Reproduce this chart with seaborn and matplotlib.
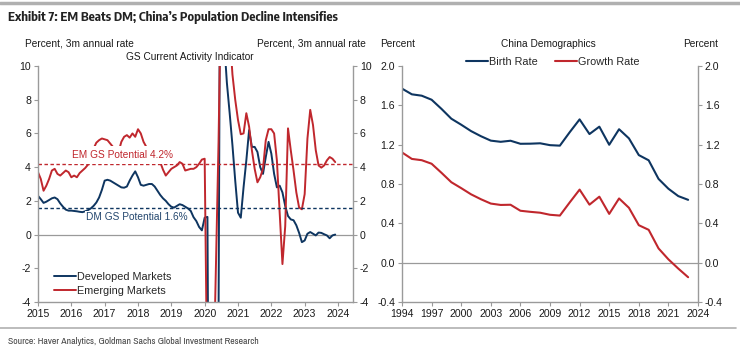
import numpy as np
import pandas as pd
import matplotlib
matplotlib.use("Agg")
import matplotlib.pyplot as plt
import seaborn as sns
from matplotlib.lines import Line2D

# ---------------- data ----------------
cai_start_year = 2015
dm_values = [
    2.3, 2.1, 1.88, 1.95, 2.05, 2.15, 2.2, 2.1, 1.85, 1.65, 1.48, 1.42,
    1.42, 1.4, 1.38, 1.35, 1.33, 1.38, 1.45, 1.55, 1.7, 1.9, 2.2, 2.65,
    3.2, 3.25, 3.2, 3.1, 3.0, 2.9, 2.8, 2.78, 2.85, 3.2, 3.5, 3.75,
    3.4, 2.95, 2.9, 2.95, 3.0, 3.0, 2.85, 2.6, 2.35, 2.15, 2.0, 1.8,
    1.65, 1.6, 1.7, 1.8, 1.75, 1.65, 1.55, 1.4, 1.03, 0.8, 0.45, 0.25,
    1.0, 1.05, -30, -32, -15, -5, 35, 11.5, 9.0, 7.2, 5.3, 3.2,
    1.3, 1.0, 2.8, 4.4, 6.2, 5.2, 5.2, 4.9, 4.0, 3.6, 4.6, 5.5,
    4.8, 3.6, 2.8, 2.9, 2.5, 1.7, 1.1, 0.9, 0.85, 0.55, 0.1, -0.45,
    -0.35, 0.05, 0.15, 0.05, -0.05, 0.12, 0.1, 0.02, -0.05, -0.22, -0.05, 0.0,
]
em_values = [
    3.7, 3.3, 2.6, 2.9, 3.3, 3.8, 3.9, 3.6, 3.5, 3.65, 3.8, 3.7,
    3.4, 3.5, 3.4, 3.65, 3.8, 3.95, 4.15, 4.6, 5.1, 5.45, 5.6, 5.7,
    5.65, 5.6, 5.4, 5.2, 4.8, 4.9, 5.5, 5.8, 5.9, 5.75, 6.0, 5.8,
    6.25, 6.0, 5.5, 5.2, 4.8, 4.6, 4.5, 4.4, 4.3, 3.85, 3.5, 3.7,
    3.9, 4.0, 4.1, 4.3, 4.2, 3.8, 3.85, 3.9, 3.9, 4.0, 4.2, 4.45,
    4.5, -10, -25, -10, -2.3, 5.5, 16, 18, 15, 12, 9.5, 8.0,
    6.8, 5.95, 6.0, 7.2, 6.4, 5.0, 3.9, 3.1, 3.4, 3.9, 5.6, 6.25,
    6.25, 6.0, 4.4, 1.3, -1.75, 0.5, 6.3, 5.0, 3.8, 2.5, 1.6, 1.5,
    2.4, 5.7, 7.4, 6.5, 5.0, 4.1, 3.97, 4.1, 4.4, 4.6, 4.5, 4.3,
]
dm_potential = 1.6
em_potential = 4.2

demo_years = list(range(1994, 2024))
birth_rate = [1.770, 1.712, 1.698, 1.657, 1.564, 1.464, 1.403, 1.338, 1.286, 1.241,
              1.229, 1.240, 1.209, 1.210, 1.214, 1.195, 1.190, 1.327, 1.457, 1.308,
              1.383, 1.199, 1.357, 1.264, 1.094, 1.041, 0.852, 0.752, 0.677, 0.639]
growth_rate = [1.121, 1.055, 1.042, 1.006, 0.914, 0.818, 0.758, 0.695, 0.645, 0.601,
               0.587, 0.589, 0.528, 0.517, 0.508, 0.487, 0.479, 0.613, 0.743, 0.590,
               0.671, 0.496, 0.653, 0.558, 0.381, 0.334, 0.145, 0.034, -0.060, -0.148]

left_xticks = list(range(2015, 2025))
left_yticks = [-4, -2, 0, 2, 4, 6, 8, 10]
right_xticks = list(range(1994, 2025, 3))
right_yticks = [-0.4, 0.0, 0.4, 0.8, 1.2, 1.6, 2.0]

# ---------------- style ----------------
sns.set_theme(style="white")
plt.rcParams["font.family"] = ["Liberation Sans", "DejaVu Sans"]
plt.rcParams["axes.linewidth"] = 1.0

NAVY = "#0e3560"
RED = "#c0272d"
GRID = "#9a9a9a"
TXT = "#1a1a1a"

W, H = 740, 347
fig = plt.figure(figsize=(W / 100, H / 100), dpi=100)

def fx(px):
    return px / W

def fy(py):
    return 1 - py / H

ax1 = fig.add_axes([fx(38), fy(302), fx(353) - fx(38), fy(66) - fy(302)])
ax2 = fig.add_axes([fx(402), fy(302), fx(698) - fx(402), fy(66) - fy(302)])

# ---------------- left chart ----------------
n = len(dm_values)
t = cai_start_year + np.arange(n) / 12.0
df_left = pd.DataFrame({
    "year": np.concatenate([t, t]),
    "value": dm_values + em_values,
    "series": ["Developed Markets"] * n + ["Emerging Markets"] * n,
})
ax1.axhline(0, color=GRID, lw=0.9, zorder=1)
sns.lineplot(data=df_left, x="year", y="value", hue="series",
             palette={"Developed Markets": NAVY, "Emerging Markets": RED},
             lw=1.4, ax=ax1, legend=False, zorder=2)
ax1.axhline(em_potential, color=RED, lw=1.0, ls=(0, (2.5, 1.8)), zorder=2)
ax1.axhline(dm_potential, color=NAVY, lw=1.0, ls=(0, (2.5, 1.8)), zorder=2)

ax1.text(2017.53, 4.72, f"EM GS Potential {em_potential}%", color=RED, fontsize=7.3,
         ha="center", va="center", zorder=5,
         bbox=dict(facecolor="white", edgecolor="none", pad=2.6))
ax1.text(2017.97, 1.03, f"DM GS Potential {dm_potential}%", color="#24476e", fontsize=7.3,
         ha="center", va="center", zorder=5,
         bbox=dict(facecolor="white", edgecolor="none", pad=1.0))

ax1.set_xlim(2015, 2024.45)
ax1.set_ylim(-4, 10)
ax1.set_xticks(left_xticks)
ax1.set_xticklabels([str(v) for v in left_xticks])
ax1.set_yticks(left_yticks)
ax1.set_yticklabels([str(v) for v in left_yticks])
ax1.set_xlabel("")
ax1.set_ylabel("")

h1 = [Line2D([], [], color=NAVY, lw=1.4), Line2D([], [], color=RED, lw=1.4)]
ax1.legend(h1, ["Developed Markets", "Emerging Markets"], loc="lower left",
           bbox_to_anchor=(0.03, 0.0), frameon=False, fontsize=7.8,
           handlelength=2.0, handletextpad=0.1, labelspacing=0.35, borderaxespad=0.2)

# ---------------- right chart ----------------
df_right = pd.DataFrame({
    "year": demo_years + demo_years,
    "value": birth_rate + growth_rate,
    "series": ["Birth Rate"] * len(demo_years) + ["Growth Rate"] * len(demo_years),
})
ax2.axhline(0, color=GRID, lw=0.9, zorder=1)
sns.lineplot(data=df_right, x="year", y="value", hue="series",
             palette={"Birth Rate": NAVY, "Growth Rate": RED},
             lw=1.5, ax=ax2, legend=False, zorder=2)
ax2.set_xlim(1994, 2024)
ax2.set_ylim(-0.4, 2.0)
ax2.set_xticks(right_xticks)
ax2.set_xticklabels([str(v) for v in right_xticks])
ax2.set_yticks(right_yticks)
ax2.set_yticklabels([f"{v:.1f}" for v in right_yticks])
ax2.set_xlabel("")
ax2.set_ylabel("")

h2 = [Line2D([], [], color=NAVY, lw=1.5), Line2D([], [], color=RED, lw=1.5)]
fig.legend(h2, ["Birth Rate", "Growth Rate"], loc="center",
           bbox_to_anchor=(fx(553), fy(62)), ncol=2, frameon=False, fontsize=7.8,
           handlelength=2.0, handletextpad=0.1, columnspacing=1.6)

for ax in (ax1, ax2):
    for s in ax.spines.values():
        s.set_color(GRID)
    ax.spines["top"].set_visible(False)
    ax.tick_params(axis="both", which="both", direction="out", length=3, width=0.8,
                   color=GRID, labelsize=7.6, labelcolor=TXT, pad=2,
                   left=True, right=True, bottom=True, labelleft=True, labelright=True)
    ax.grid(False)

# ---------------- texts ----------------
fig.add_artist(Line2D([0, 1], [fy(3), fy(3)], color="#b0b0b0", lw=2.5))
fig.add_artist(Line2D([0, fx(736)], [fy(328), fy(328)], color="#b0b0b0", lw=1.2))

fig.text(fx(8), fy(18), "Exhibit 7: EM Beats DM; China\u2019s Population Decline Intensifies",
         family=["Encode Sans Condensed", "DejaVu Sans"], fontweight="bold", fontsize=9.3,
         color="#222222", ha="left", va="center")
fig.text(fx(8), fy(341), "Source: Haver Analytics, Goldman Sachs Global Investment Research",
         family=["Archivo Narrow", "DejaVu Sans"], fontsize=7.0, color="#444444",
         ha="left", va="center")

lab = dict(fontsize=7.3, color=TXT, va="center")
fig.text(fx(25), fy(44), "Percent, 3m annual rate", ha="left", **lab)
fig.text(fx(366), fy(44), "Percent, 3m annual rate", ha="right", **lab)
fig.text(fx(190), fy(57), "GS Current Activity Indicator", ha="center", **lab)
fig.text(fx(380), fy(44), "Percent", ha="left", **lab)
fig.text(fx(548), fy(44), "China Demographics", ha="center", **lab)
fig.text(fx(718), fy(44), "Percent", ha="right", **lab)

fig.savefig("out.png", dpi=100)
